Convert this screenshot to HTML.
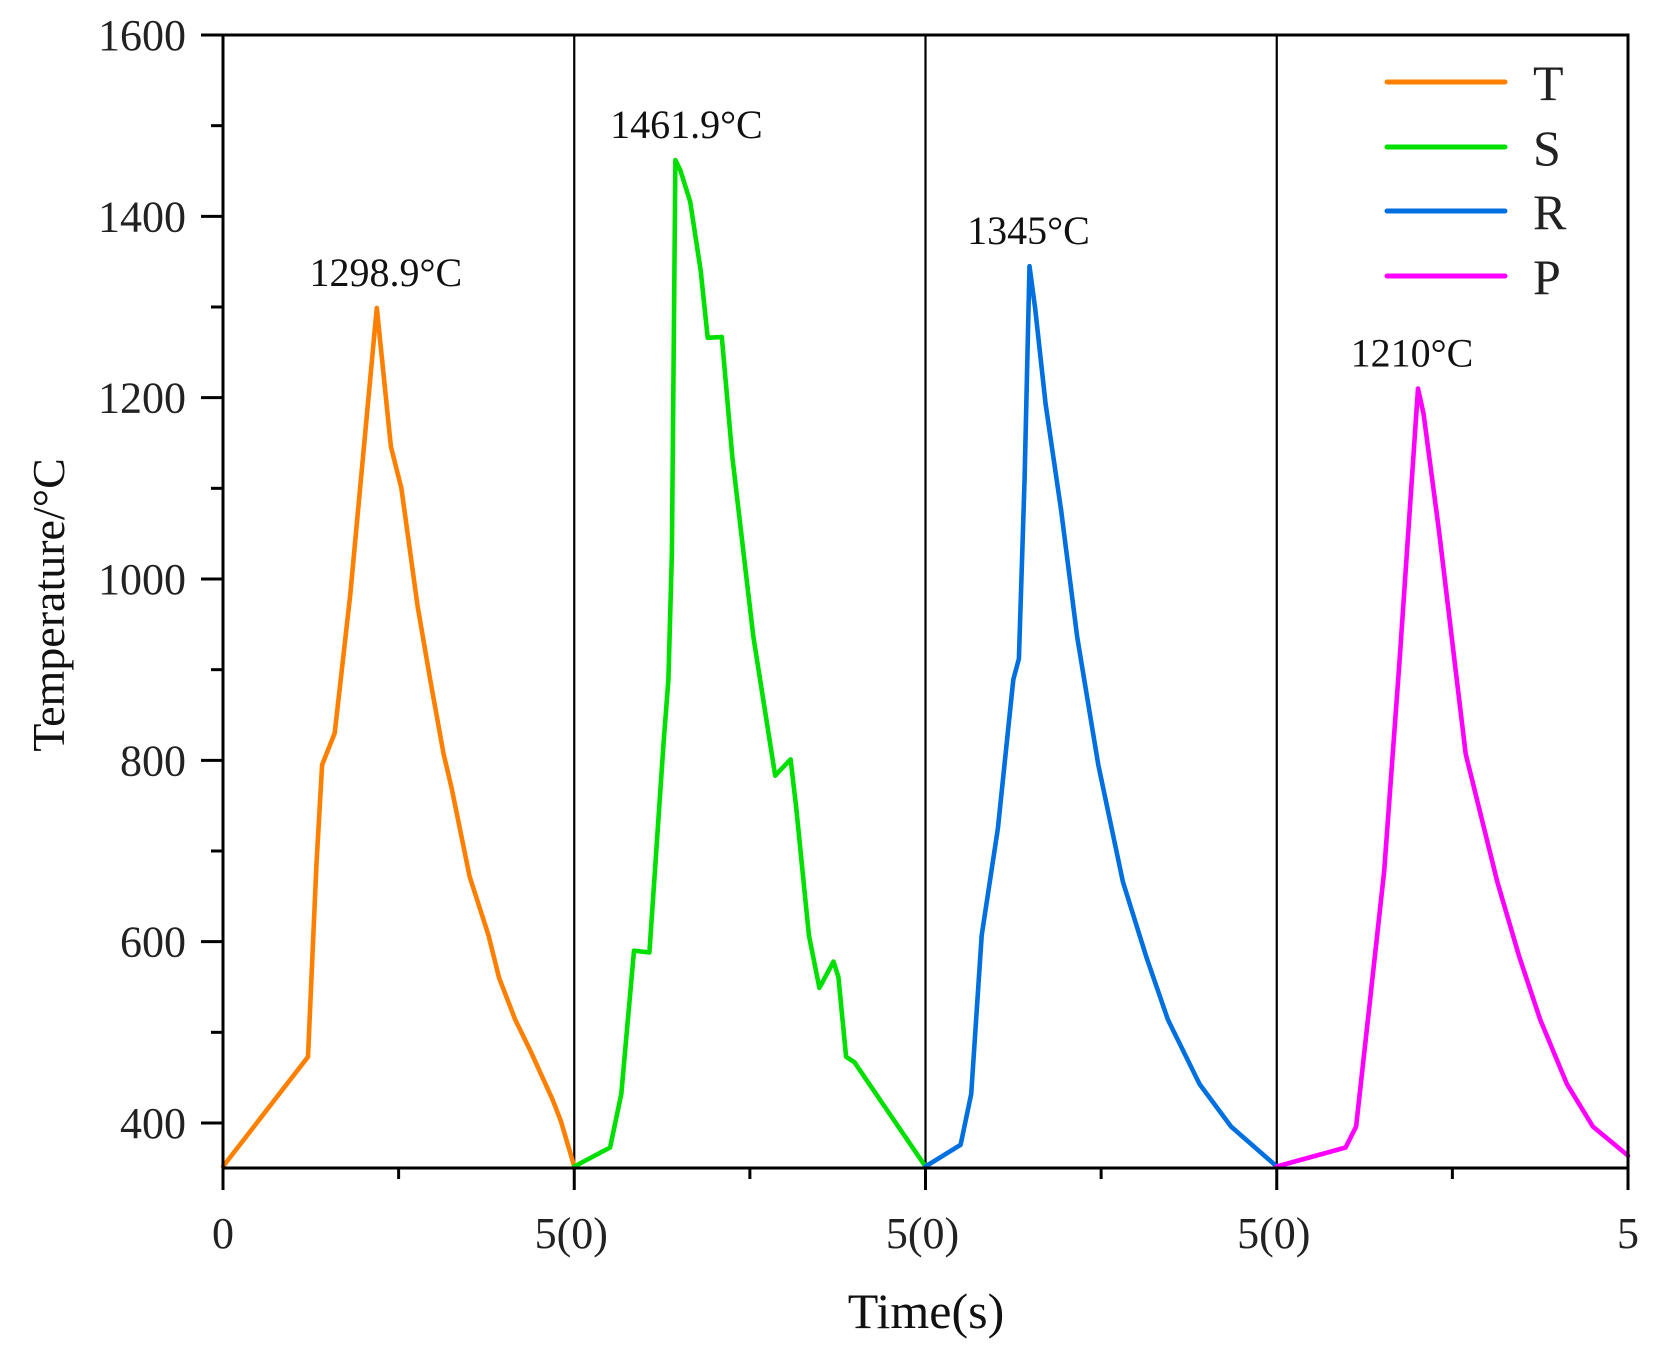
<!DOCTYPE html>
<html><head><meta charset="utf-8"><style>
html,body{margin:0;padding:0;background:#fff;}
svg{display:block;font-family:"Liberation Serif","Noto Serif CJK SC",serif;}
</style></head>
<body>
<svg id="chart" width="1664" height="1357" viewBox="0 0 1664 1357" xmlns="http://www.w3.org/2000/svg">
<g id="grid"></g>
<g id="series"></g>
<g id="axes"></g>
<g id="labels"></g>
<g id="legend"></g>
</svg>
<script>
const seriesNames = ["T","S","R","P"];
const seriesColors = ["#ff8000","#00e000","#0070e0","#ff00ff"];
const peakLabels = ["1298.9°C","1461.9°C","1345°C","1210°C"];
const peakValues = [1298.9,1461.9,1345,1210];
const yTicks = [400,600,800,1000,1200,1400,1600];
const xTickLabels = ["0","5(0)","5(0)","5(0)","5"];
const tT = [0,1.21,1.33,1.41,1.59,1.81,2.19,2.39,2.54,2.77,2.95,3.14,3.25,3.51,3.78,3.93,4.16,4.38,4.69,4.81,5];
const vT = [352,473,684,795,830,982,1299,1146,1100,970,889,807,771,672,607,560,514,479,426,402,352];
const tS = [0,0.51,0.67,0.85,1.07,1.27,1.34,1.39,1.44,1.51,1.65,1.80,1.90,2.10,2.25,2.48,2.55,2.86,2.93,3.08,3.16,3.34,3.49,3.69,3.76,3.87,3.99,5];
const vS = [352,373,432,590,588,818,889,1029,1462,1451,1416,1340,1266,1267,1135,982,936,783,789,801,748,607,549,578,561,473,467,352];
const tR = [0,0.50,0.65,0.80,1.03,1.25,1.33,1.41,1.48,1.56,1.71,1.93,2.16,2.46,2.81,3.14,3.45,3.90,4.35,5];
const vR = [352,376,432,607,725,889,912,1111,1345,1299,1193,1076,936,795,666,584,514,443,396,352];
const tP = [0,0.98,1.13,1.33,1.53,1.75,2.01,2.09,2.31,2.69,3.14,3.45,3.75,4.13,4.50,5];
const vP = [352,373,396,537,678,912,1210,1182,1053,807,666,584,514,443,396,364];

const NS="http://www.w3.org/2000/svg";
const L=223,R=1628,TOP=35,BOT=1168;
const panelW=(R-L)/4;
const labelDx=[9,11,-1,-6];
function y(v){return 1123-(v-400)*(1088/1200);}
function x(p,t){return L+p*panelW+t/5*panelW;}
function mk(tag,attrs,parent){const e=document.createElementNS(NS,tag);for(const k in attrs)e.setAttribute(k,attrs[k]);parent.appendChild(e);return e;}
const axes=document.getElementById('axes'),series=document.getElementById('series'),labels=document.getElementById('labels'),legend=document.getElementById('legend'),grid=document.getElementById('grid');

for(let p=1;p<4;p++){
  const d=mk('line',{x1:L+p*panelW,x2:L+p*panelW,y1:TOP,y2:BOT,stroke:'#000','stroke-width':2.2},grid);
  
  
}
const tData=[tT,tS,tR,tP],vData=[vT,vS,vR,vP];
for(let i=0;i<4;i++){
  const pts=tData[i].map((t,j)=>x(i,t).toFixed(1)+','+y(vData[i][j]).toFixed(1)).join(' ');
  const pl=mk('polyline',{points:pts,fill:'none',stroke:seriesColors[i],'stroke-width':4.6,'stroke-linejoin':'round','stroke-linecap':'round'},series);
  
  
  const pk=tData[i][vData[i].indexOf(Math.max(...vData[i]))];
  const tx=mk('text',{x:x(i,pk)+labelDx[i],y:y(peakValues[i])-22,'font-size':40,'text-anchor':'middle',fill:'#111'},labels);
  tx.textContent=peakLabels[i];
  
  
}
const fr=mk('path',{d:`M${L},${TOP}H${R}V${BOT}H${L}Z`,fill:'none',stroke:'#000','stroke-width':3},axes);


for(let v=400;v<=1600;v+=100){
  const major=v%200===0;
  const tk=mk('line',{x1:L-(major?22:12),x2:L,y1:y(v),y2:y(v),stroke:'#000','stroke-width':3},axes);
  
  
}
yTicks.forEach(v=>{
  const t=mk('text',{x:186,y:y(v)+15,'font-size':44,'text-anchor':'end',fill:'#222'},labels);
  t.textContent=String(v);
  
  
});
for(let k=0;k<=8;k++){
  const xx=L+k*panelW/2, major=k%2===0;
  const tk=mk('line',{x1:xx,x2:xx,y1:BOT,y2:BOT+(major?22:11),stroke:'#000','stroke-width':3},axes);
  
  
}
xTickLabels.forEach((s,k)=>{
  const t=mk('text',{x:L+k*panelW+(s.length>1?-3:0),y:1248,'font-size':44,'text-anchor':'middle',fill:'#222'},labels);
  t.textContent=s;
  
  
});
const xt=mk('text',{x:926,y:1328,'font-size':50,'text-anchor':'middle',fill:'#111'},labels);
xt.textContent='Time(s)';


const yt=mk('text',{x:0,y:0,'font-size':46,'text-anchor':'middle',fill:'#111',transform:'translate(64,605) rotate(-90)'},labels);
yt.textContent='Temperature/°C';


const legY=[82,147,211,276];
seriesNames.forEach((n,i)=>{
  const ln=mk('line',{x1:1387,x2:1505,y1:legY[i],y2:legY[i],stroke:seriesColors[i],'stroke-width':5,'stroke-linecap':'round'},legend);
  
  
  const t=mk('text',{x:1533,y:legY[i]+18,'font-size':50,fill:'#222'},legend);
  t.textContent=n;
  
  
});
</script>
</body></html>
